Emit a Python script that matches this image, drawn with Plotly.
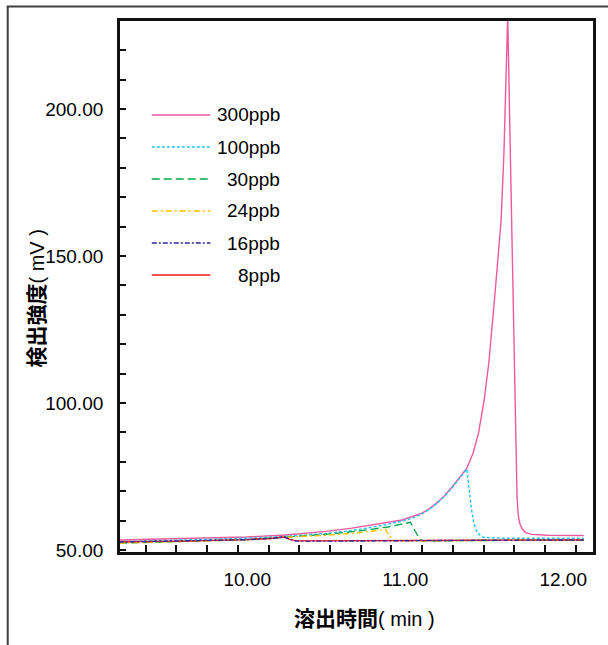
import plotly.graph_objects as go

# ---- data ----
series_names = ["300ppb", "100ppb", "30ppb", "24ppb", "16ppb", "8ppb"]

x_300 = [9.19, 9.6, 10.0, 10.244, 10.5, 10.664, 10.85, 10.98, 11.106, 11.15, 11.2, 11.25,
         11.295, 11.34, 11.39, 11.43, 11.464, 11.50, 11.53, 11.565, 11.59, 11.607, 11.625,
         11.64, 11.649, 11.66, 11.674, 11.685, 11.695, 11.702, 11.708, 11.715, 11.725,
         11.74, 11.76, 11.80, 11.9, 12.13]
y_300 = [53.4, 53.8, 54.4, 55.1, 56.3, 57.4, 58.9, 60.2, 62.5, 63.9, 66.0, 68.5,
         71.3, 74.3, 77.8, 83.0, 89.7, 101.0, 114.0, 135.0, 150.0, 162.0, 185.0,
         210.0, 232.0, 200.0, 162.0, 125.0, 100.0, 80.0, 68.0, 62.0, 59.0,
         57.2, 56.0, 55.3, 55.0, 54.9]

x_100 = [9.19, 9.6, 10.0, 10.244, 10.5, 10.664, 10.85, 10.98, 11.05, 11.106, 11.15, 11.2,
         11.25, 11.295, 11.34, 11.39, 11.40, 11.42, 11.435, 11.453, 11.475, 11.495, 11.6, 12.13]
y_100 = [52.8, 53.3, 54.0, 54.6, 55.6, 56.6, 58.3, 59.8, 60.9, 62.3, 63.7, 65.8,
         68.3, 71.0, 74.0, 77.5, 73.0, 63.6, 59.0, 56.2, 54.9, 54.3, 54.0, 54.0]

x_30 = [9.19, 9.6, 10.0, 10.24, 10.5, 10.7, 10.9, 11.033, 11.05, 11.07, 11.09, 11.11, 11.6, 12.13]
y_30 = [52.3, 52.8, 53.5, 54.4, 55.3, 56.4, 57.9, 59.4, 57.8, 55.5, 53.8, 53.1, 53.2, 53.4]

x_24 = [9.19, 9.6, 10.0, 10.24, 10.5, 10.7, 10.875, 10.905, 10.93, 11.0, 11.5, 12.13]
y_24 = [52.3, 52.8, 53.5, 54.3, 55.0, 55.8, 57.0, 54.5, 53.1, 53.1, 53.2, 53.4]

x_16 = [9.19, 9.6, 10.0, 10.15, 10.235, 10.27, 10.31, 10.6, 11.0, 11.5, 12.13]
y_16 = [52.7, 53.0, 53.5, 53.9, 54.4, 53.6, 53.0, 53.0, 53.2, 53.3, 53.4]

x_8 = [9.19, 9.6, 10.0, 10.15, 10.235, 10.27, 10.31, 10.6, 11.0, 11.5, 12.13]
y_8 = [52.8, 53.0, 53.5, 53.9, 54.4, 53.6, 53.1, 53.1, 53.2, 53.3, 53.4]

x_ticks = [10, 11, 12]
y_ticks = [50, 100, 150, 200]

# ---- styles ----
colors = {"300ppb": "#f0589e", "100ppb": "#22c2f2", "30ppb": "#00a651",
          "24ppb": "#ffc000", "16ppb": "#2b2b9e", "8ppb": "#ff1a1a"}
dashes = {"300ppb": "solid", "100ppb": "3px,2px", "30ppb": "8px,4px",
          "24ppb": "6px,3px,2px,3px", "16ppb": "5px,2px,2px,2px", "8ppb": "solid"}
data = {"300ppb": (x_300, y_300), "100ppb": (x_100, y_100), "30ppb": (x_30, y_30),
        "24ppb": (x_24, y_24), "16ppb": (x_16, y_16), "8ppb": (x_8, y_8)}

fig = go.Figure()
for name in ["300ppb", "100ppb", "30ppb", "24ppb", "8ppb", "16ppb"]:
    xs, ys = data[name]
    fig.add_trace(go.Scatter(x=xs, y=ys, mode="lines", name=name, showlegend=False,
                             line=dict(color=colors[name], width=1.4, dash=dashes[name])))

W, H = 608, 645
L, R, T, B = 120, 596, 21, 552
pw, ph = R - L, B - T

def px(xp):
    return (xp - L) / pw

def py(yp):
    return (B - yp) / ph

shapes = []
annotations = []
# outer frame (only left and top edges are visible in the picture)
shapes.append(dict(type="line", xref="paper", yref="paper", x0=px(7), x1=px(7),
                   y0=py(660), y1=py(6.5), line=dict(color="#404040", width=2), layer="above"))
shapes.append(dict(type="line", xref="paper", yref="paper", x0=px(6), x1=px(620),
                   y0=py(6.5), y1=py(6.5), line=dict(color="#404040", width=2), layer="above"))

# hand-placed legend (right-aligned labels like the reference)
legend_y = [115, 147, 179, 211, 243, 275]
for name, ly in zip(series_names, legend_y):
    shapes.append(dict(type="line", xref="paper", yref="paper", x0=px(152), x1=px(211),
                       y0=py(ly), y1=py(ly),
                       line=dict(color=colors[name], width=1.4, dash=dashes[name])))
    annotations.append(dict(text=name, xref="paper", yref="paper", x=px(283), y=py(ly),
                            xanchor="right", yanchor="middle", showarrow=False,
                            font=dict(family="Liberation Sans, Arial", size=19, color="#000")))

# axis titles
annotations.append(dict(
    text="<b>溶出時間</b><span style='font-family:Liberation Sans;font-size:20px'>( min )</span>",
    xref="paper", yref="paper", x=px(366), y=py(617), xanchor="center", yanchor="middle",
    showarrow=False, font=dict(family="Noto Sans CJK JP", size=21, color="#000")))
annotations.append(dict(
    text="<b>検出強度</b><span style='font-family:Liberation Sans;font-size:20px'>( mV )</span>",
    xref="paper", yref="paper", x=px(34), y=py(299), xanchor="center", yanchor="middle",
    textangle=-90, showarrow=False, font=dict(family="Noto Sans CJK JP", size=21, color="#000")))

x_per_min = 159.0
x_left = 10 + (L - 248) / x_per_min
x_right = 10 + (R - 248) / x_per_min

fig.update_layout(
    width=W, height=H,
    margin=dict(l=L, r=W - R, t=T, b=H - B),
    paper_bgcolor="white", plot_bgcolor="white",
    showlegend=False,
    shapes=shapes, annotations=annotations,
    xaxis=dict(range=[x_left, x_right], tickvals=x_ticks, tickformat=".2f",
               ticks="", showgrid=False, zeroline=False,
               showline=True, linecolor="#111", linewidth=2.8, mirror=True,
               ticklabelstandoff=8,
               tickfont=dict(family="Liberation Sans, Arial", size=19, color="#000"),
               minor=dict(ticks="inside", tick0=9.357, dtick=0.1945, ticklen=7,
                          tickcolor="#111", tickwidth=1.5, showgrid=False)),
    yaxis=dict(range=[49.3, 229.9], tickvals=y_ticks, tickformat=".2f",
               ticks="inside", ticklen=6, tickcolor="#111", tickwidth=1.5,
               showgrid=False, zeroline=False,
               showline=True, linecolor="#111", linewidth=2.8, mirror=True,
               ticklabelstandoff=10,
               tickfont=dict(family="Liberation Sans, Arial", size=19, color="#000"),
               minor=dict(ticks="inside", dtick=10, ticklen=6, tickcolor="#111",
                          tickwidth=1.5, showgrid=False)),
)

fig.write_html("out.html", config={"displayModeBar": False},
               post_script="document.body.style.margin='0';document.body.style.overflow='hidden';")
